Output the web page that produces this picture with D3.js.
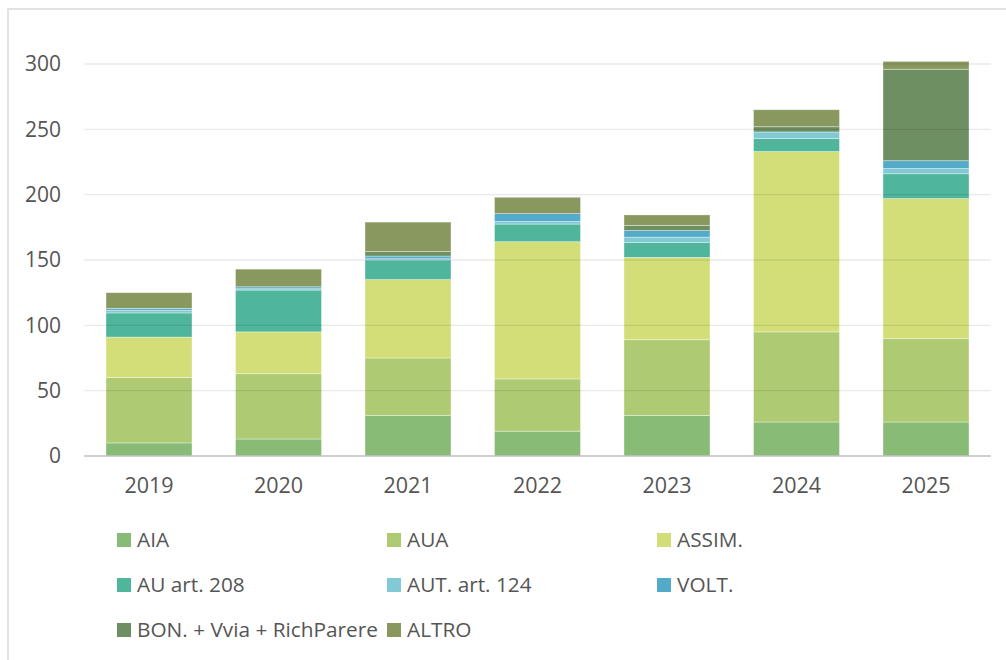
<!DOCTYPE html>
<html>
<head>
<meta charset="utf-8">
<script src="https://cdn.jsdelivr.net/npm/d3@7"></script>
<style>
  html, body { margin: 0; padding: 0; background: #ffffff; }
  svg { display: block; }
  text { font-family: "Open Sans", "Noto Sans", sans-serif; fill: #555555; }
</style>
</head>
<body>
<svg id="chart" width="1006" height="660"></svg>
<script>
// ---- Data ----
const years = ["2019", "2020", "2021", "2022", "2023", "2024", "2025"];
const seriesNames = ["AIA", "AUA", "ASSIM.", "AU art. 208", "AUT. art. 124", "VOLT.", "BON. + Vvia + RichParere", "ALTRO"];
const AIA    = [10, 13, 31, 19, 31, 26, 26];
const AUA    = [50, 50, 44, 40, 58, 69, 64];
const ASSIM  = [31, 32, 60, 105, 63, 138, 107];
const AU208  = [18.5, 32, 15, 13.5, 11.5, 10, 19];
const AUT124 = [2, 1, 1, 2, 4, 5, 4];
const VOLT   = [1.5, 1.5, 2, 6, 5, 0, 6];
const BON    = [0, 0, 3.5, 0, 4, 4, 70];
const ALTRO  = [12, 13.5, 22.5, 12.5, 8, 13, 6];
const yTicks = [0, 50, 100, 150, 200, 250, 300];
const colors = ["#88bb76", "#aecb73", "#d3de78", "#4fb59b", "#80c9d5", "#53abc9", "#6d8f62", "#88985f"];

const seriesValues = [AIA, AUA, ASSIM, AU208, AUT124, VOLT, BON, ALTRO];
const table = years.map((y, i) => {
  const row = { year: y };
  seriesNames.forEach((n, k) => row[n] = seriesValues[k][i]);
  return row;
});

// ---- Layout ----
const svg = d3.select("#chart");
svg.append("rect").attr("width", 1006).attr("height", 660).attr("fill", "#fff");

// outer frame (top and left edges visible)
svg.append("path")
  .attr("d", "M8,660 L8,9 L1006,9")
  .attr("fill", "none").attr("stroke", "#d9d9d9").attr("stroke-width", 1.5);

const plotLeft = 84.25, plotRight = 990.75, plotTop = 64, plotBottom = 456;

const x = d3.scaleBand().domain(years).range([plotLeft, plotRight])
  .paddingInner(0.336).paddingOuter(0.168);
const y = d3.scaleLinear().domain([0, 300]).range([plotBottom, plotTop]);

const stack = d3.stack().keys(seriesNames);
const stacked = stack(table);

// bars
const g = svg.append("g");
g.selectAll("g.series").data(stacked).join("g")
  .attr("class", "series")
  .attr("fill", (d, i) => colors[i])
  .selectAll("rect").data(d => d.filter(s => s[1] - s[0] > 0)).join("rect")
  .attr("x", d => x(d.data.year))
  .attr("width", x.bandwidth())
  .attr("y", d => y(d[1]))
  .attr("height", d => y(d[0]) - y(d[1]))
  .attr("stroke", "#ffffff").attr("stroke-opacity", 0.45).attr("stroke-width", 0.8);

// gridlines (drawn over bars, faint)
const grid = svg.append("g");
grid.selectAll("line").data(yTicks.filter(t => t > 0)).join("line")
  .attr("x1", plotLeft).attr("x2", plotRight)
  .attr("y1", d => y(d)).attr("y2", d => y(d))
  .attr("stroke", "#000").attr("stroke-opacity", 0.085).attr("stroke-width", 1.3);

// baseline axis
svg.append("line")
  .attr("x1", plotLeft).attr("x2", plotRight)
  .attr("y1", y(0)).attr("y2", y(0))
  .attr("stroke", "#bfbfbf").attr("stroke-width", 1.6);

// y axis labels
const yAxis = d3.axisLeft(y).tickValues(yTicks).tickSize(0).tickPadding(0);
const yg = svg.append("g").attr("transform", "translate(61,0)").call(yAxis);
yg.select(".domain").remove();
yg.selectAll("text").attr("font-size", "21px").attr("fill", "#555555")
  .attr("font-family", "'Open Sans', 'Noto Sans', sans-serif");

// x axis labels
const xAxis = d3.axisBottom(x).tickSize(0).tickPadding(0);
const xg = svg.append("g").attr("transform", "translate(0,478)").call(xAxis);
xg.select(".domain").remove();
xg.selectAll("text").attr("font-size", "21.5px").attr("fill", "#555555")
  .attr("font-family", "'Open Sans', 'Noto Sans', sans-serif");

// legend
const legCols = [117, 387, 657];
const legRows = [540, 585, 630];
const leg = svg.append("g");
seriesNames.forEach((n, i) => {
  const cx = legCols[i % 3], cy = legRows[Math.floor(i / 3)];
  leg.append("rect").attr("x", cx).attr("y", cy - 7).attr("width", 14).attr("height", 14)
    .attr("fill", colors[i]);
  leg.append("text").attr("x", cx + 20).attr("y", cy).attr("dy", "0.35em")
    .attr("font-size", "20.8px").text(n);
});
</script>
</body>
</html>
